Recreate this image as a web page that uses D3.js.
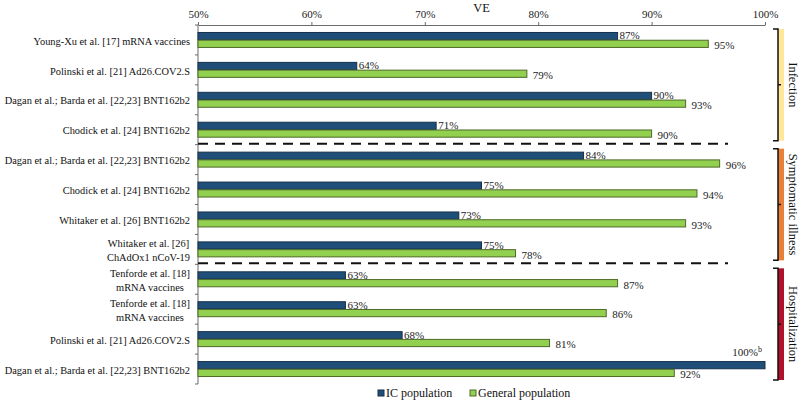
<!DOCTYPE html>
<html><head><meta charset="utf-8">
<script src="https://cdn.jsdelivr.net/npm/d3@7"></script>
<style>
html,body{margin:0;padding:0;background:#fff;}
svg{display:block;font-family:"Liberation Serif","Times New Roman",serif;}
</style></head>
<body>
<svg id="chart" width="800" height="402"></svg>
<script>
const categories = [
  "Young-Xu et al. [17] mRNA vaccines",
  "Polinski et al. [21] Ad26.COV2.S",
  "Dagan et al.; Barda et al. [22,23] BNT162b2",
  "Chodick et al. [24] BNT162b2",
  "Dagan et al.; Barda et al. [22,23] BNT162b2",
  "Chodick et al. [24] BNT162b2",
  "Whitaker et al. [26] BNT162b2",
  "Whitaker et al. [26]\nChAdOx1 nCoV-19",
  "Tenforde et al. [18]\nmRNA vaccines",
  "Tenforde et al. [18]\nmRNA vaccines",
  "Polinski et al. [21] Ad26.COV2.S",
  "Dagan et al.; Barda et al. [22,23] BNT162b2"
];
const icValues  = [87, 64, 90, 71, 84, 75, 73, 75, 63, 63, 68, 100];
const genValues = [95, 79, 93, 90, 96, 94, 93, 78, 87, 86, 81, 92];
const icNotes   = ["", "", "", "", "", "", "", "", "", "", "", "b"];
const groupNames = ["Infection", "Symptomatic illness", "Hospitalization"];
const groupStart = [0, 4, 8];
const groupEnd   = [3, 7, 11];
const groupColors = ["#FFE699", "#E9803A", "#B0112B"];
const tickValues = [50, 60, 70, 80, 90, 100];
const seriesNames = ["IC population", "General population"];
const seriesFill = ["#1F4E79", "#92D050"];
const seriesStroke = ["#14304d", "#4f6a28"];
const axisTitle = "VE";

const svg = d3.select("#chart");
const x = d3.scaleLinear().domain([50, 100]).range([198, 765]);
const y = d3.scaleBand().domain(d3.range(categories.length)).range([25, 384]).paddingInner(0.5).paddingOuter(0.25);
const ys = d3.scaleBand().domain([0, 1]).range([0, y.bandwidth()]).paddingInner(0.07);
const boundary = i => y(i) + y.bandwidth() / 2 - y.step() / 2;

// top axis
const ax = svg.append("g").attr("transform", "translate(0,25)")
  .call(d3.axisTop(x).tickValues(tickValues).tickFormat(d => d + "%").tickSize(3).tickSizeOuter(0));
ax.select(".domain").attr("stroke", "#6b6b6b");
ax.selectAll(".tick line").attr("stroke", "#6b6b6b");
ax.selectAll("text").attr("font-family", "Liberation Serif").attr("font-size", 11).attr("fill", "#222").attr("dy", "-1");
svg.append("text").attr("x", (x.range()[0] + x.range()[1]) / 2).attr("y", 12)
  .attr("text-anchor", "middle").attr("font-size", 12.5).attr("fill", "#111").text(axisTitle);

// left axis
const x0 = x.range()[0];
svg.append("line").attr("x1", x0).attr("x2", x0).attr("y1", y.range()[0]).attr("y2", y.range()[1]).attr("stroke", "#6b6b6b");
svg.selectAll(".ltick").data(d3.range(categories.length + 1)).join("line")
  .attr("x1", x0 - 3).attr("x2", x0)
  .attr("y1", i => i < categories.length ? boundary(i) : boundary(i - 1) + y.step())
  .attr("y2", i => i < categories.length ? boundary(i) : boundary(i - 1) + y.step())
  .attr("stroke", "#6b6b6b");

// category labels
categories.forEach((c, i) => {
  const lines = c.split("\n");
  const cy = y(i) + y.bandwidth() / 2;
  const t = svg.append("text").attr("font-size", 10.4).attr("fill", "#111");
  if (lines.length === 1) {
    t.attr("x", 190).attr("y", cy + 1).attr("dy", "0.35em").attr("text-anchor", "end").text(c);
  } else {
    t.attr("text-anchor", "middle");
    lines.forEach((l, k) => t.append("tspan").attr("y", cy + 1 + (k - (lines.length - 1) / 2) * 14).attr("dy", "0.35em").text(l));
    const w = d3.max(t.selectAll("tspan").nodes(), n => n.getComputedTextLength());
    t.selectAll("tspan").attr("x", 190 - w / 2);
  }
});

// bars
const series = [icValues, genValues];
series.forEach((vals, s) => {
  svg.selectAll(".bar" + s).data(vals).join("rect")
    .attr("x", x0).attr("y", (d, i) => y(i) + ys(s))
    .attr("width", d => x(d) - x0).attr("height", ys.bandwidth())
    .attr("fill", seriesFill[s]).attr("stroke", seriesStroke[s]).attr("stroke-width", 1);
});

// value labels
icValues.forEach((v, i) => {
  const cy = y(i) + ys(0) + ys.bandwidth() / 2;
  const t = svg.append("text").attr("font-size", 11).attr("fill", "#222");
  if (x(v) + 28 > x.range()[1]) {
    t.attr("x", x(v) - 3).attr("y", cy - 9).attr("text-anchor", "end").text(v + "%");
    t.append("tspan").attr("font-size", 8).attr("dy", "-4").text(icNotes[i]);
  } else {
    t.attr("x", x(v) + 2).attr("y", cy).attr("dy", "0.3em").text(v + "%" );
  }
});
genValues.forEach((v, i) => {
  const cy = y(i) + ys(1) + ys.bandwidth() / 2;
  svg.append("text").attr("font-size", 11).attr("fill", "#222")
    .attr("x", x(v) + 6).attr("y", cy + 1.5).attr("dy", "0.35em").text(v + "%");
});

// dashed separators
groupStart.slice(1).forEach(g => {
  svg.append("line").attr("x1", x0).attr("x2", 728)
    .attr("y1", boundary(g) - 1).attr("y2", boundary(g) - 1)
    .attr("stroke", "#111").attr("stroke-width", 2).attr("stroke-dasharray", "10,7");
});

// group brackets
groupNames.forEach((name, g) => {
  const top = boundary(groupStart[g]) + 4;
  const bot = boundary(groupEnd[g]) + y.step() - 4;
  const mid = (top + bot) / 2;
  svg.append("rect").attr("x", 778).attr("y", top).attr("width", 6).attr("height", bot - top).attr("fill", groupColors[g]);
  svg.append("path").attr("d", `M773,${top} L778,${top} L778,${bot} L773,${bot} M778,${mid} L781,${mid}`)
    .attr("fill", "none").attr("stroke", "#111").attr("stroke-width", 1.5);
  svg.append("text").attr("transform", `translate(789,${mid}) rotate(90)`)
    .attr("text-anchor", "middle").attr("font-size", 12.5).attr("fill", "#111").text(name);
});

// legend
const legX = [378, 470];
seriesNames.forEach((n, s) => {
  svg.append("rect").attr("x", legX[s]).attr("y", 390).attr("width", 6).attr("height", 6)
    .attr("fill", seriesFill[s]).attr("stroke", seriesStroke[s]);
  svg.append("text").attr("x", legX[s] + 8).attr("y", 393).attr("dy", "0.35em")
    .attr("font-size", 12).attr("fill", "#111").text(n);
});
</script>
</body></html>
